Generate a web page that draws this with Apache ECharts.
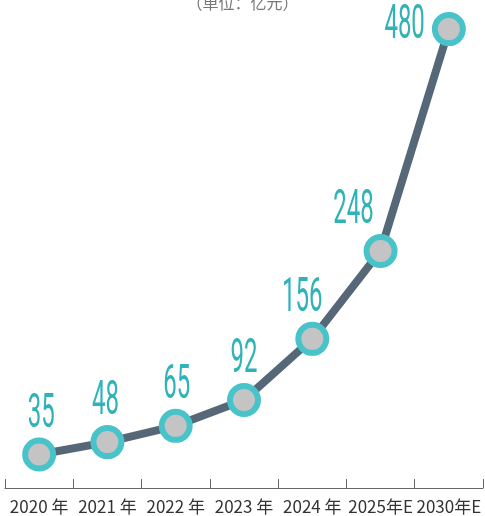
<!DOCTYPE html>
<html>
<head>
<meta charset="utf-8">
<script src="https://cdn.jsdelivr.net/npm/echarts@6/dist/echarts.min.js"></script>
<style>
    html, body { margin: 0; padding: 0; background: #fff; }
    #chart { width: 485px; height: 516px; }
</style>
</head>
<body>
<div id="chart"></div>
<script>
const years = ['2020 年', '2021 年', '2022 年', '2023 年', '2024 年', '2025年E', '2030年E'];
const values = [35, 48, 65, 92, 156, 248, 480];
// label nudges per point (px), to match where the numbers sit in the original
const labelShift = [[2, 0], [-2, 0], [1, 0], [0, 0], [-10, 0], [-27, 0], [0, 0]];

const chart = echarts.init(document.getElementById('chart'));

// numbers drawn as squeezed text, since no condensed font is installed
const renderValueLabel = (params, api) => {
    const i = params.dataIndex;
    const pt = api.coord([api.value(0), api.value(1)]);
    const last = i === values.length - 1;
    return {
        type: 'text',
        x: last ? pt[0] - 24 : pt[0] + labelShift[i][0],
        y: last ? pt[1] - 3 : pt[1] - 16,
        scaleX: 0.5,
        style: {
            text: String(values[i]),
            align: last ? 'right' : 'center',
            verticalAlign: last ? 'middle' : 'bottom',
            fontFamily: 'Roboto',
            fontSize: 48,
            fill: '#2fb3b7'
        }
    };
};

chart.setOption({
    animation: false,
    title: {
        text: '（单位：亿元）',
        left: 'center',
        top: -10,
        textStyle: {
            fontFamily: 'Noto Sans CJK SC',
            fontSize: 16,
            fontWeight: 'normal',
            color: '#777'
        }
    },
    grid: {left: 5, right: 2, top: 10, bottom: 28},
    xAxis: {
        type: 'category',
        data: years,
        boundaryGap: true,
        axisLine: {lineStyle: {color: '#666', width: 1}},
        axisTick: {show: true, inside: true, length: 9, lineStyle: {color: '#666', width: 1}},
        axisLabel: {
            margin: 10,
            fontFamily: 'Noto Sans CJK SC',
            fontSize: 17,
            color: '#333',
            interval: 0
        }
    },
    yAxis: {
        type: 'value',
        min: 0,
        max: 500,
        show: false
    },
    series: [{
        type: 'line',
        data: values,
        symbol: 'circle',
        symbolSize: 28,
        lineStyle: {color: '#566878', width: 8},
        itemStyle: {color: '#c4c4c4', borderColor: '#47c3c9', borderWidth: 6},
        z: 2
    }, {
        type: 'custom',
        data: values.map((v, i) => [i, v]),
        renderItem: renderValueLabel,
        z: 3
    }]
});
</script>
</body>
</html>
